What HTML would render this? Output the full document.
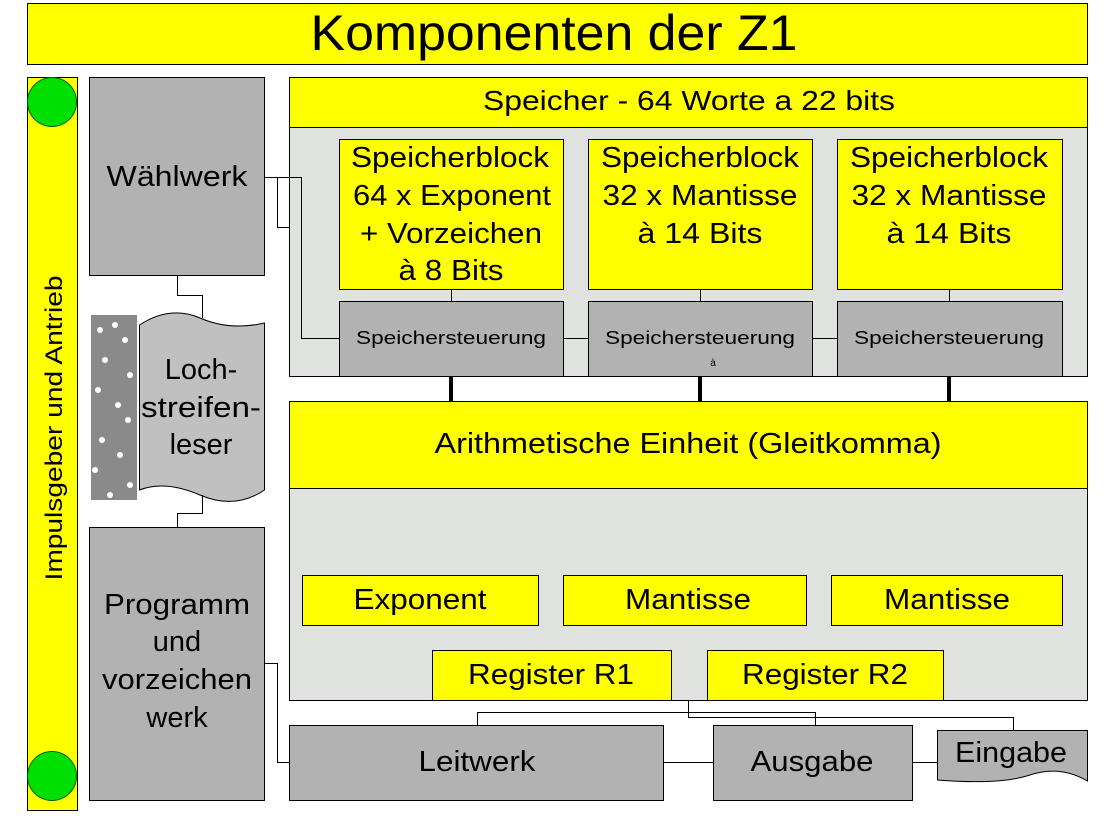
<!DOCTYPE html>
<html><head><meta charset="utf-8"><style>
html,body{margin:0;padding:0;background:#fff;width:1114px;height:827px;overflow:hidden}
svg{display:block}
text{font-family:"Liberation Sans",sans-serif;fill:#000}
</style></head><body>
<svg width="1114" height="827" viewBox="0 0 1114 827" xmlns="http://www.w3.org/2000/svg">
<g stroke="#000" stroke-width="1">
<rect x="27.5" y="3.5" width="1060" height="61" fill="#ffff00"/>
<rect x="27.5" y="77.5" width="50" height="733" fill="#ffff00"/>
<circle cx="52" cy="102" r="24.5" fill="#00e000" stroke="#006000"/>
<circle cx="52" cy="776" r="24.5" fill="#00e000" stroke="#006000"/>
<rect x="89.5" y="77.5" width="175" height="198" fill="#b2b2b2"/>
<rect x="89.5" y="527.5" width="175" height="273" fill="#b2b2b2"/>
<path d="M139.5 325 Q170 305 200 318 T264.5 323 V490 Q235 510 200 495 T139.5 490 Z" fill="#c0c0c0"/>
<rect x="289.5" y="77.5" width="798" height="50" fill="#ffff00"/>
<rect x="289.5" y="127.5" width="798" height="249" fill="#e0e2e0"/>
<rect x="339.5" y="139.5" width="224" height="150" fill="#ffff00"/>
<rect x="588.5" y="139.5" width="224" height="150" fill="#ffff00"/>
<rect x="837.5" y="139.5" width="225" height="150" fill="#ffff00"/>
<rect x="339.5" y="301.5" width="224" height="75" fill="#b2b2b2"/>
<rect x="588.5" y="301.5" width="224" height="75" fill="#b2b2b2"/>
<rect x="837.5" y="301.5" width="225" height="75" fill="#b2b2b2"/>
<rect x="289.5" y="401.5" width="798" height="87" fill="#ffff00"/>
<rect x="289.5" y="488.5" width="798" height="212" fill="#e0e2e0"/>
<rect x="302.5" y="575.5" width="236" height="50" fill="#ffff00"/>
<rect x="563.5" y="575.5" width="243" height="50" fill="#ffff00"/>
<rect x="831.5" y="575.5" width="231" height="50" fill="#ffff00"/>
<rect x="432.5" y="650.5" width="239" height="50" fill="#ffff00"/>
<rect x="707.5" y="650.5" width="236" height="50" fill="#ffff00"/>
<rect x="289.5" y="725.5" width="374" height="75" fill="#b2b2b2"/>
<rect x="713.5" y="725.5" width="199" height="75" fill="#b2b2b2"/>
<path d="M937.5 730.5 H1087.5 V781 Q1060 765 1030 775 T937.5 780 Z" fill="#b2b2b2"/>
<g fill="none">
<path d="M264 177.5 H301.5 V338.5 H340"/>
<path d="M277.5 177.5 V227.5 H289"/>
<path d="M177.5 275 V295.5 H202.5 V318"/>
<path d="M202.5 495 V513.5 H177.5 V527"/>
<path d="M264 663.5 H277.5 V762.5 H289"/>
<path d="M451.5 289 V301 M700.5 289 V301 M949.5 289 V301"/>
<path d="M563 338.5 H588 M812 338.5 H837"/>
<path d="M663 762.5 H713 M912 762.5 H937"/>
<path d="M477.5 725 V712.5 H815.5 V725"/>
<path d="M688.5 700 V717.5 H1013.5 V730"/>
</g>
<path d="M451 376 V401 M700 376 V401 M949 376 V401" stroke-width="4"/>
</g>
<rect x="91" y="315" width="46" height="185" fill="#8a8a8a"/>
<g fill="#fff">
<circle cx="100" cy="330" r="3"/><circle cx="115" cy="325" r="3"/><circle cx="125" cy="340" r="3"/><circle cx="105" cy="360" r="3"/><circle cx="130" cy="375" r="3"/><circle cx="98" cy="390" r="3"/><circle cx="118" cy="405" r="3"/><circle cx="128" cy="420" r="3"/><circle cx="102" cy="440" r="3"/><circle cx="120" cy="455" r="3"/><circle cx="95" cy="470" r="3"/><circle cx="130" cy="485" r="3"/><circle cx="110" cy="495" r="3"/>
</g>
<g text-anchor="middle">
<text x="554" y="50" font-size="50" textLength="487" lengthAdjust="spacingAndGlyphs">Komponenten der Z1</text>
<text transform="translate(62,428) rotate(-90)" font-size="24" textLength="305" lengthAdjust="spacingAndGlyphs">Impulsgeber und Antrieb</text>
<text x="177" y="186" font-size="29" textLength="141" lengthAdjust="spacingAndGlyphs">Wählwerk</text>
<text x="201" y="379" font-size="29">Loch-</text>
<text x="201" y="417" font-size="29" textLength="120" lengthAdjust="spacingAndGlyphs">streifen-</text>
<text x="201" y="454" font-size="29">leser</text>
<text x="177" y="614" font-size="29" textLength="146" lengthAdjust="spacingAndGlyphs">Programm</text>
<text x="177" y="651" font-size="29">und</text>
<text x="177" y="689" font-size="29" textLength="150" lengthAdjust="spacingAndGlyphs">vorzeichen</text>
<text x="177" y="727" font-size="29">werk</text>
<text x="689" y="110" font-size="28" textLength="412" lengthAdjust="spacingAndGlyphs">Speicher - 64 Worte a 22 bits</text>
<g font-size="29">
<text x="450" y="167" textLength="198" lengthAdjust="spacingAndGlyphs">Speicherblock</text><text x="452" y="205" textLength="198" lengthAdjust="spacingAndGlyphs">64 x Exponent</text><text x="451" y="243" textLength="182" lengthAdjust="spacingAndGlyphs">+ Vorzeichen</text><text x="451" y="280" textLength="105" lengthAdjust="spacingAndGlyphs">à 8 Bits</text>
<text x="700" y="167" textLength="198" lengthAdjust="spacingAndGlyphs">Speicherblock</text><text x="700" y="205" textLength="195" lengthAdjust="spacingAndGlyphs">32 x Mantisse</text><text x="700" y="243" textLength="125" lengthAdjust="spacingAndGlyphs">à 14 Bits</text>
<text x="949" y="167" textLength="198" lengthAdjust="spacingAndGlyphs">Speicherblock</text><text x="949" y="205" textLength="195" lengthAdjust="spacingAndGlyphs">32 x Mantisse</text><text x="949" y="243" textLength="125" lengthAdjust="spacingAndGlyphs">à 14 Bits</text>
</g>
<g font-size="18">
<text x="451" y="344" textLength="190" lengthAdjust="spacingAndGlyphs">Speichersteuerung</text><text x="700" y="344" textLength="190" lengthAdjust="spacingAndGlyphs">Speichersteuerung</text><text x="949" y="344" textLength="190" lengthAdjust="spacingAndGlyphs">Speichersteuerung</text>
</g>
<text x="713" y="366" font-size="10">à</text>
<text x="688" y="453" font-size="29" textLength="507" lengthAdjust="spacingAndGlyphs">Arithmetische Einheit  (Gleitkomma)</text>
<g font-size="29">
<text x="420" y="609" textLength="133" lengthAdjust="spacingAndGlyphs">Exponent</text><text x="688" y="609" textLength="126" lengthAdjust="spacingAndGlyphs">Mantisse</text><text x="947" y="609" textLength="126" lengthAdjust="spacingAndGlyphs">Mantisse</text>
<text x="551" y="684" textLength="166" lengthAdjust="spacingAndGlyphs">Register R1</text><text x="825" y="684" textLength="166" lengthAdjust="spacingAndGlyphs">Register R2</text>
<text x="477" y="771" textLength="117" lengthAdjust="spacingAndGlyphs">Leitwerk</text><text x="812" y="771" textLength="123" lengthAdjust="spacingAndGlyphs">Ausgabe</text><text x="1011" y="762" textLength="112" lengthAdjust="spacingAndGlyphs">Eingabe</text>
</g>
</g>
</svg>
</body></html>
